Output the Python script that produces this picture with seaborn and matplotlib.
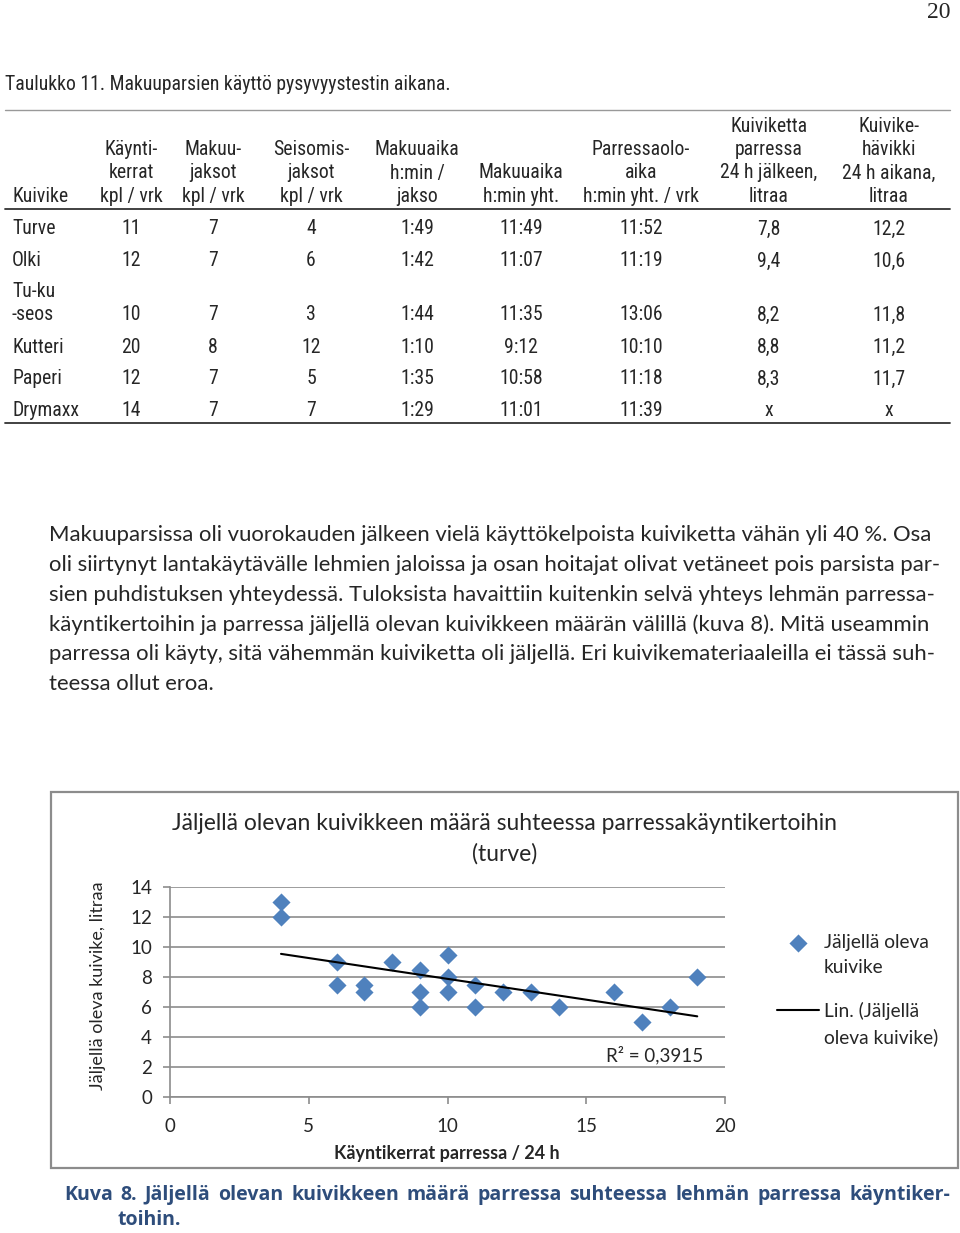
import matplotlib.pyplot as plt
import seaborn as sns
from matplotlib import font_manager
from matplotlib.lines import Line2D
from matplotlib.patches import Rectangle

# --- data -----------------------------------------------------------------
kayntikerrat = [4, 4, 6, 6, 7, 7, 8, 9, 9, 9, 10, 10, 10, 11, 11, 12, 13, 14, 16, 17, 18, 19]
jaljella = [13, 12, 9, 7.5, 7.5, 7, 9, 8.5, 7, 6, 9.5, 8, 7, 7.5, 6, 7, 7, 6, 7, 5, 6, 8]
r2_text = "R² = 0,3915"

col_headers = [
    "Kuivike",
    "Käynti-\nkerrat\nkpl / vrk",
    "Makuu-\njaksot\nkpl / vrk",
    "Seisomis-\njaksot\nkpl / vrk",
    "Makuuaika\nh:min /\njakso",
    "Makuuaika\nh:min yht.",
    "Parressaolo-\naika\nh:min yht. / vrk",
    "Kuiviketta\nparressa\n24 h jälkeen,\nlitraa",
    "Kuivike-\nhävikki\n24 h aikana,\nlitraa",
]
kuivikkeet = ["Turve", "Olki", "Tu-ku\n-seos", "Kutteri", "Paperi", "Drymaxx"]
table_rows = [
    ["11", "7", "4", "1:49", "11:49", "11:52", "7,8", "12,2"],
    ["12", "7", "6", "1:42", "11:07", "11:19", "9,4", "10,6"],
    ["10", "7", "3", "1:44", "11:35", "13:06", "8,2", "11,8"],
    ["20", "8", "12", "1:10", "9:12", "10:10", "8,8", "11,2"],
    ["12", "7", "5", "1:35", "10:58", "11:18", "8,3", "11,7"],
    ["14", "7", "7", "1:29", "11:01", "11:39", "x", "x"],
]

paragraph = [
    "Makuuparsissa oli vuorokauden jälkeen vielä käyttökelpoista kuiviketta vähän yli 40 %. Osa",
    "oli siirtynyt lantakäytävälle lehmien jaloissa ja osan hoitajat olivat vetäneet pois parsista par-",
    "sien puhdistuksen yhteydessä. Tuloksista havaittiin kuitenkin selvä yhteys lehmän parressa-",
    "käyntikertoihin ja parressa jäljellä olevan kuivikkeen määrän välillä (kuva 8). Mitä useammin",
    "parressa oli käyty, sitä vähemmän kuiviketta oli jäljellä. Eri kuivikemateriaaleilla ei tässä suh-",
    "teessa ollut eroa.",
]
caption = [
    "Kuva 8. Jäljellä olevan kuivikkeen määrä parressa suhteessa lehmän parressa käyntiker-",
    "toihin.",
]
legend_labels = [["Jäljellä oleva", "kuivike"], ["Lin. (Jäljellä", "oleva kuivike)"]]

sns.set_theme(style="white")
W, H = 960, 1233

# pick a condensed face for the table if one is installed
fonts = font_manager.fontManager.ttflist
names = {f.name for f in fonts}
table_font = {"family": ["Liberation Sans"], "fontsize": 12.5}
if "Liberation Sans Narrow" in names:
    table_font = {"family": ["Liberation Sans Narrow"], "fontsize": 14.5}
elif "Roboto Condensed" in names:
    table_font = {"family": ["Roboto Condensed"], "fontsize": 14.2}
elif any(f.name == "DejaVu Sans" and f.stretch == "condensed" for f in fonts):
    table_font = {"family": ["DejaVu Sans"], "stretch": "condensed", "fontsize": 13}

BODY = ["Lato", "DejaVu Sans"]


def px(x, y):
    return x / W, 1 - y / H


fig = plt.figure(figsize=(W / 100, H / 100), dpi=100)
renderer = fig.canvas.get_renderer()


def justify(line, x0, x1, y, **kw):
    words = line.split(" ")
    texts = [fig.text(0, 1 - y / H, w, ha="left", va="center", **kw) for w in words]
    widths = [t.get_window_extent(renderer).width for t in texts]
    gap = (x1 - x0 - sum(widths)) / max(len(words) - 1, 1)
    x = x0
    for t, w in zip(texts, widths):
        t.set_x(x / W)
        x += w + gap


# page number and table caption
fig.text(*px(950, 13), "20", family=["Liberation Serif"], fontsize=17, ha="right", va="center")
fig.text(*px(5, 85), "Taulukko 11. Makuuparsien käyttö pysyvyystestin aikana.",
         ha="left", va="center", **table_font)

# table
col_x = [12, 131, 213, 311, 417, 521, 641, 769, 889]
for i, head in enumerate(col_headers):
    ha = "left" if i == 0 else "center"
    fig.text(*px(col_x[i], 206), head, ha=ha, va="bottom", linespacing=1.3, **table_font)
row_y = [229, 261, 303, 347, 379, 411]
for name, vals, y in zip(kuivikkeet, table_rows, row_y):
    fig.text(*px(col_x[0], y), name, ha="left", va="center", linespacing=1.3, **table_font)
    yv = y + 12 if "\n" in name else y
    for cx, v in zip(col_x[1:], vals):
        fig.text(*px(cx, yv), v, ha="center", va="center", **table_font)
for y, c, lw in [(110, "#999999", 1.0), (209, "#333333", 1.3), (423, "#333333", 1.3)]:
    fig.add_artist(Line2D([5 / W, 950 / W], [1 - y / H] * 2, color=c, lw=lw))

# paragraph
for k, line in enumerate(paragraph):
    fig.text(*px(49, 535 + k * 29.8), line, family=BODY, fontsize=15.9, ha="left", va="center")

# chart frame
fig.add_artist(Rectangle(px(51, 1168), 907 / W, 376 / H, fill=False, ec="#8c8c8c", lw=1.6))

ax = fig.add_axes([170 / W, 1 - 1097 / H, 555 / W, 210 / H])
sns.regplot(x=kayntikerrat, y=jaljella, ax=ax, ci=None, marker="D",
            scatter_kws={"s": 85, "color": "#4F81BD", "alpha": 1, "linewidths": 0},
            line_kws={"color": "black", "lw": 1.5})
ax.set_xlim(0, 20)
ax.set_ylim(0, 14)
ax.set_xticks(range(0, 21, 5))
ax.set_yticks(range(0, 15, 2))
ax.grid(axis="y", color="#8c8c8c", lw=1.2)
ax.set_axisbelow(True)
for s in ["top", "right"]:
    ax.spines[s].set_visible(False)
for s in ["left", "bottom"]:
    ax.spines[s].set_color("#8c8c8c")
    ax.spines[s].set_linewidth(1.2)
ax.tick_params(axis="both", direction="out", length=5, width=1.2, color="#8c8c8c",
               labelsize=13.5, pad=8)
ax.tick_params(axis="x", bottom=True, pad=10)
ax.tick_params(axis="y", left=True)
for t in ax.get_xticklabels() + ax.get_yticklabels():
    t.set_family(BODY)
ax.set_xlabel("")
ax.set_ylabel("")
ax.text(0.96, 0.2, r2_text, transform=ax.transAxes, ha="right", va="center",
        family=BODY, fontsize=13.5)

fig.text(*px(505, 823), "Jäljellä olevan kuivikkeen määrä suhteessa parressakäyntikertoihin",
         family=BODY, fontsize=16.5, ha="center", va="center")
fig.text(*px(505, 854), "(turve)", family=BODY, fontsize=16.5, ha="center", va="center")
fig.text(*px(98, 986), "Jäljellä oleva kuivike, litraa", family=BODY, fontsize=13,
         rotation=90, ha="center", va="center")
fig.text(*px(447, 1153), "Käyntikerrat parressa / 24 h", family=BODY, fontsize=13,
         weight="bold", ha="center", va="center")

# legend: marker/line sits beside the first text line, as in Excel
blank = Line2D([], [], lw=0, marker=None)
for handle, labels, top in [(ax.collections[0], legend_labels[0], 934),
                            (ax.lines[0], legend_labels[1], 1002)]:
    fig.legend([handle, blank], labels, loc="upper left", bbox_to_anchor=px(777, top),
               frameon=False, prop={"family": BODY, "size": 13.8}, handlelength=2.2,
               labelspacing=0.42, handletextpad=0.25, borderaxespad=0, borderpad=0)

# figure caption, justified like the source document
cap_kw = dict(family=["Open Sans", "DejaVu Sans"], weight="bold", fontsize=14, color="#2E4D7B")
justify(caption[0], 64, 950, 1195, **cap_kw)
fig.text(*px(117, 1220), caption[1], ha="left", va="center", **cap_kw)

fig.savefig("out.png", dpi=100)
